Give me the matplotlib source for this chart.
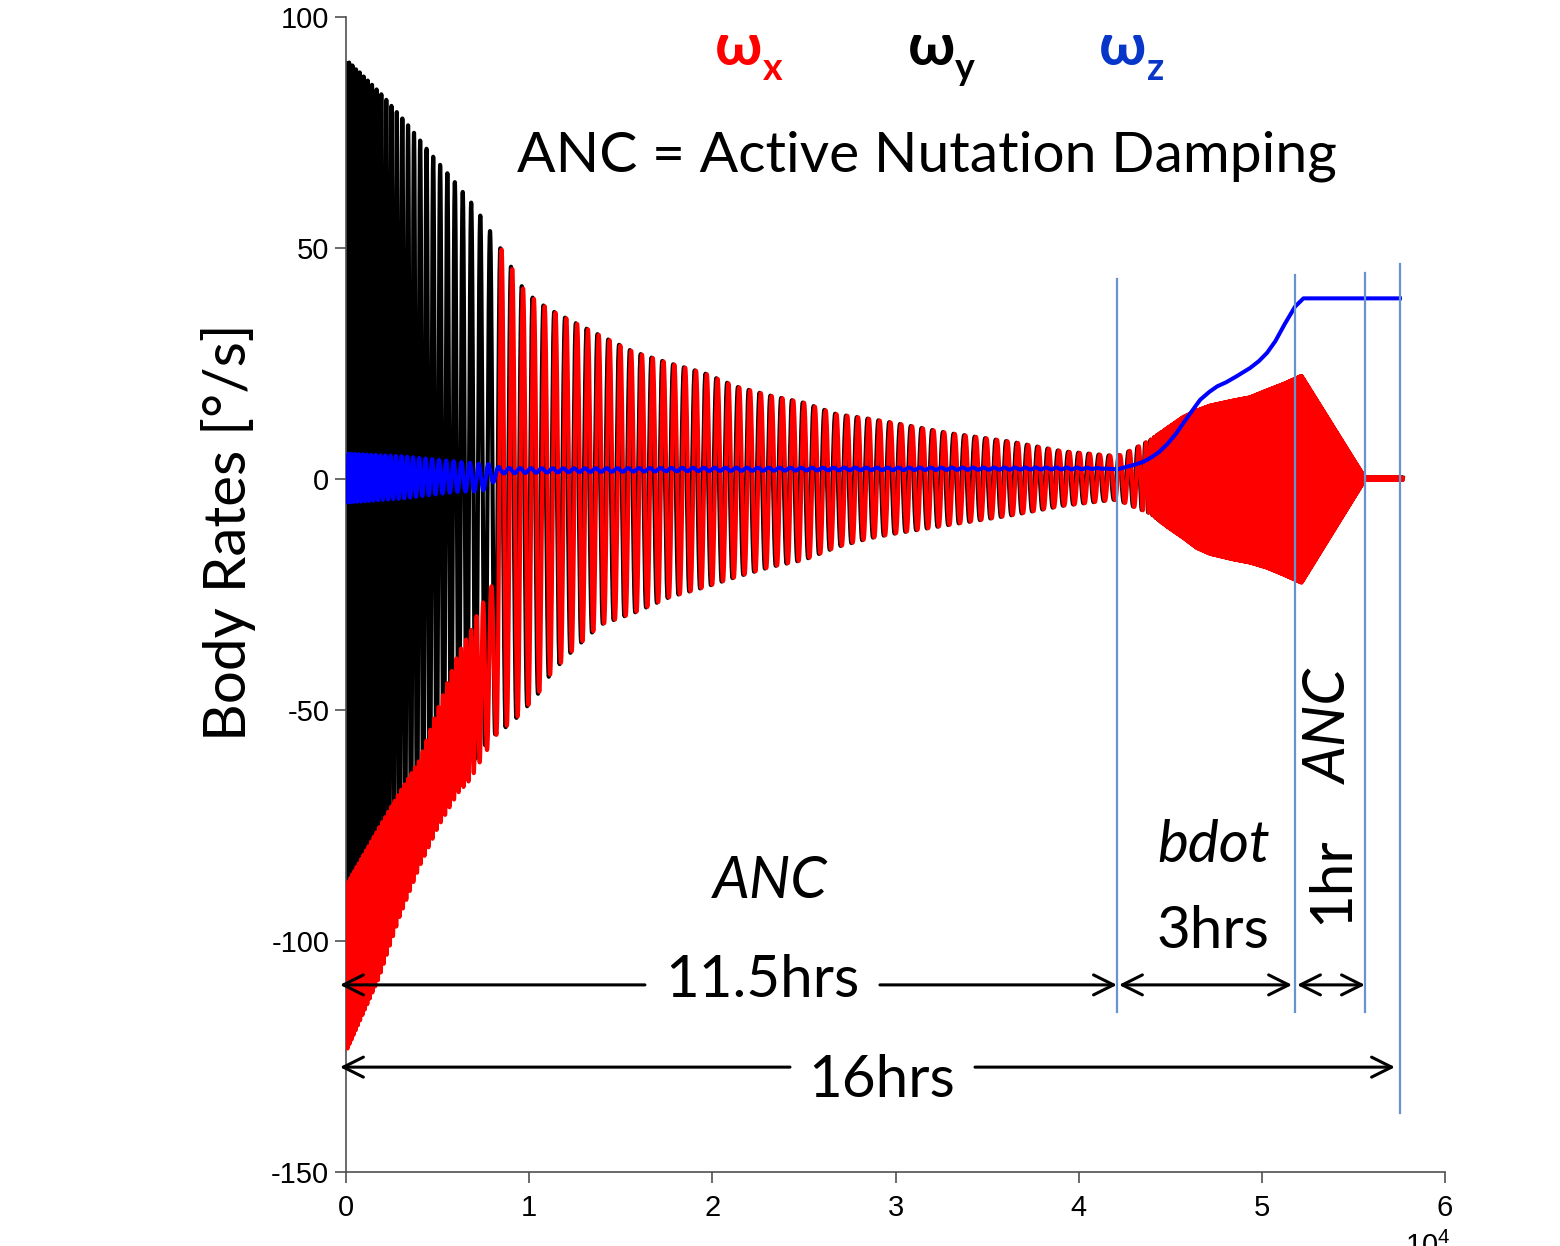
import numpy as np
import matplotlib
matplotlib.use('Agg')
import matplotlib.pyplot as plt

plt.rcParams['axes.unicode_minus'] = False
plt.rcParams['mathtext.fontset'] = 'custom'
plt.rcParams['mathtext.rm'] = 'Liberation Sans'

# ---- values (time in s, rates in deg/s) ----

# omega_y (black) envelope, also used for omega_x after the flip at ~8500 s
env_t  = [0, 2000, 3300, 4600, 6000, 7000, 7500, 8200, 9000, 9700, 10400, 11200,
          12400, 13900, 15700, 17700, 19500, 21300, 23200, 25000, 26800, 28600,
          30100, 32800, 36400, 39100, 41900, 42300, 43000, 43895, 44805, 45710,
          46440, 47170, 48440, 49350, 50265, 51170, 52170, 55630, 57700]
env_hi = [91, 83, 77, 70.5, 64, 59, 56, 51.5, 46, 41, 38.5, 36.5,
          34, 31, 27.5, 25, 23, 20, 18, 16.5, 14, 13,
          12, 10, 8, 6, 5, 5.2, 6.5, 8.4, 11.0, 13.5,
          14.9, 16.0, 17.1, 17.8, 19.3, 20.7, 22.5, 0.3, 0.3]
env_lo = [-89, -84, -79, -73, -66, -61, -58, -55, -53, -50, -47, -42,
          -37, -31.5, -29, -25.5, -23.5, -21.2, -19, -17.5, -14.7, -12.8,
          -11.7, -10, -7.8, -5.8, -4.5, -4.8, -6.0, -7.4, -10.3, -12.8,
          -15.0, -16.3, -17.5, -18.2, -19.3, -20.8, -22.6, -0.2, -0.2]

# omega_x (red) band before the flip
wx_t0  = [0, 1800, 2900, 4000, 5000, 6100, 6800, 7200, 8100, 8450]
wx_hi0 = [-88, -75.5, -68, -61, -50, -38, -33, -29, -22, 50]
wx_lo0 = [-124, -108, -95, -84, -75.5, -68, -65, -62, -56, -54]
# red ripple is faster than the black one before the flip
wx_ft  = [0, 7000, 8200]
wx_f   = [0.6, 0.6, 1.0]

# omega_z (blue) mean and ripple
wz_t   = [0, 6000, 7500, 8500, 20000, 41165, 42130, 42980, 43530, 43895, 44350,
          44805, 45260, 45710, 46170, 46620, 47080, 47535, 47990, 48440, 48900,
          49350, 49810, 50265, 50720, 51170, 51540, 51810, 52265, 57540]
wz_mid = [0.2, 0.5, 0.3, 1.8, 2.1, 2.3, 2.1, 3.0, 3.7, 4.5, 5.7,
          7.4, 9.5, 12.1, 14.6, 17.1, 18.7, 20.0, 20.8, 21.8, 22.9,
          24.0, 25.4, 27.2, 29.7, 33.0, 35.5, 37.3, 39.1, 39.1]
wz_at  = [0, 3000, 6000, 7200, 7800, 8500, 12000, 40000, 42000]
wz_amp = [5.3, 4.6, 3.3, 3.0, 2.5, 0.6, 0.4, 0.2, 0.0]

# nutation period
per_t = [0, 2000, 4000, 6000, 8000, 9000, 30000, 42000, 43300, 44000, 44600, 57700]
per_s = [170, 270, 340, 420, 560, 590, 590, 550, 480, 200, 40, 40]

# phase boundaries (vertical lines) and arrows
vl_t   = [42100, 51800, 55630, 57540]
vl_top = [43.3, 44.2, 44.6, 46.5]
vl_bot = [-115.4, -115.4, -115.4, -137.2]

xticks = [0, 10000, 20000, 30000, 40000, 50000, 60000]
xlabels = ['0', '1', '2', '3', '4', '5', '6']
yticks = [-150, -100, -50, 0, 50, 100]
ylabels = ['-150', '-100', '-50', '0', '50', '100']

TXT = ['Lato', 'DejaVu Sans']
FS = 42


def main():
    dt = 4.0
    t = np.arange(0, 57700 + dt, dt)
    period = np.interp(t, per_t, per_s)
    phase = 2 * np.pi * np.cumsum(dt / period)

    hi_y = np.interp(t, env_t, env_hi)
    lo_y = np.interp(t, env_t, env_lo)
    wy = (hi_y + lo_y) / 2 + (hi_y - lo_y) / 2 * np.cos(phase)

    # red phase: faster early, locked to black (small lag) after the flip
    rphase = 2 * np.pi * np.cumsum(dt / (period * np.interp(t, wx_ft, wx_f)))
    i0 = np.searchsorted(t, 9000)
    rphase = rphase - (rphase[i0] - phase[i0]) - 2 * np.pi * 0.12

    keep = [i for i, v in enumerate(env_t) if v >= 9000]
    xt = wx_t0 + [env_t[i] for i in keep]
    xh = wx_hi0 + [env_hi[i] for i in keep]
    xl = wx_lo0 + [env_lo[i] for i in keep]
    hi_x = np.interp(t, xt, xh)
    lo_x = np.interp(t, xt, xl)
    wx = (hi_x + lo_x) / 2 + (hi_x - lo_x) / 2 * np.cos(rphase)

    tz = t[t <= 57540]
    wz = np.interp(tz, wz_t, wz_mid) + np.interp(tz, wz_at, wz_amp) * np.cos(phase[:len(tz)] + 1.0)

    fig = plt.figure(figsize=(15.6, 12.46), dpi=100)
    ax = fig.add_axes([346 / 1560, 1 - 1172 / 1246, 1099 / 1560, 1155 / 1246])

    lw = 3.0
    ax.plot(t, wy, color='black', lw=lw, solid_joinstyle='round', zorder=2)
    ax.plot(t, wx, color='#ff0000', lw=lw, solid_joinstyle='round', zorder=3)
    ax.plot(tz, wz, color='#0000ff', lw=2.9, solid_joinstyle='round', zorder=5)

    for x, a, b in zip(vl_t, vl_top, vl_bot):
        ax.plot([x, x], [b, a], color='#6794cc', lw=1.6, zorder=6, clip_on=False)

    ax.set_xlim(0, 60000)
    ax.set_ylim(-150, 100)
    ax.set_xticks(xticks)
    ax.set_xticklabels(xlabels)
    ax.set_yticks(yticks)
    ax.set_yticklabels(ylabels)
    for s in ['top', 'right']:
        ax.spines[s].set_visible(False)
    for s in ['left', 'bottom']:
        ax.spines[s].set_color('#505050')
        ax.spines[s].set_linewidth(1.2)
    ax.tick_params(direction='out', length=8, width=1.2, color='#505050',
                   labelsize=21)
    ax.tick_params(axis='x', pad=8)
    ax.tick_params(axis='y', pad=4)
    for lab in ax.get_xticklabels() + ax.get_yticklabels():
        lab.set_family(['Liberation Sans', 'DejaVu Sans'])

    fig.text(1405 / 1560, 1 - 1232 / 1246, r'$10^{4}$', fontsize=21, va='top')

    fig.text(228 / 1560, 1 - 532 / 1246, 'Body Rates [°/s]', rotation=90,
             ha='center', va='center', fontsize=FS, family=TXT)

    # arrows
    ap = dict(arrowstyle='->,head_length=0.72,head_width=0.36', lw=2.2,
              color='black', shrinkA=0, shrinkB=0, mutation_scale=20)
    ap2 = dict(arrowstyle='<->,head_length=0.72,head_width=0.36', lw=2.2,
               color='black', shrinkA=0, shrinkB=0, mutation_scale=20)
    y1, y2 = -109.5, -127.3
    segs = [((-330, y1), (16320, y1)), ((42090, y1), (29150, y1)),
            ((-330, y2), (24240, y2)), ((57270, y2), (34340, y2))]
    for tip, tail in segs:
        ax.annotate('', xy=tip, xytext=tail, arrowprops=ap, annotation_clip=False)
    for a, b in [(42200, 51650), (51920, 55630)]:
        ax.annotate('', xy=(b, y1), xytext=(a, y1), arrowprops=ap2,
                    annotation_clip=False)

    ax.text(22710, -112.1, '11.5hrs', ha='center', va='baseline', fontsize=FS, family=TXT)
    ax.text(29260, -133.8, '16hrs', ha='center', va='baseline', fontsize=FS, family=TXT)
    ax.text(47330, -101.5, '3hrs', ha='center', va='baseline', fontsize=FS, family=TXT)
    ax.text(47390, -82.9, 'bdot', ha='center', va='baseline', fontsize=FS,
            style='italic', family=TXT)
    ax.text(23150, -90.7, 'ANC', ha='center', va='baseline', fontsize=FS,
            style='italic', family=TXT)
    ax.text(53830, -86.8, '1hr', ha='center', va='center', rotation=90,
            fontsize=FS, family=TXT)
    ax.text(53720, -53.5, 'ANC', ha='center', va='center', rotation=90,
            fontsize=FS, style='italic', family=TXT)
    ax.text(31720, 66.5, 'ANC = Active Nutation Damping', ha='center',
            va='baseline', fontsize=41, family=TXT)

    # legend-like labels
    for xw, xs, sub, col in [(715, 763, 'x', '#ff0000'), (908, 955, 'y', 'black'),
                             (1099, 1147, 'z', '#0836c8')]:
        fig.text(xw / 1560, 1 - 65 / 1246, 'ω', fontsize=43, weight='bold',
                 color=col, va='baseline', family=TXT)
        fig.text(xs / 1560, 1 - 80 / 1246, sub, fontsize=27, weight='bold',
                 color=col, va='baseline', family=TXT)

    fig.savefig('out.png', dpi=100)


if __name__ == '__main__':
    main()
